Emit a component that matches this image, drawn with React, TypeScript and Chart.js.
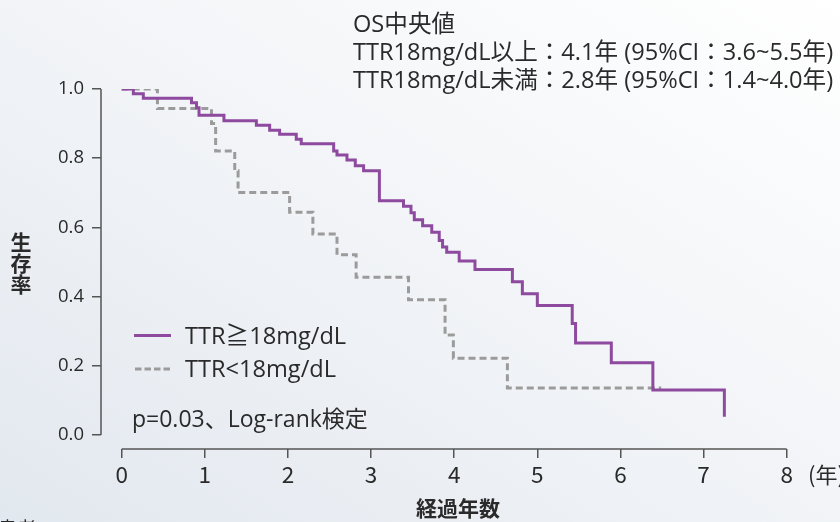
import React, { useEffect, useRef } from "react";
import { Chart, registerables } from "chart.js";

Chart.register(...registerables);

// ---- data ----
const highTimes = [0, 0.14, 0.26, 0.84, 0.9, 0.93, 1.23, 1.62, 1.78, 1.9, 2.1, 2.16, 2.55, 2.59, 2.71, 2.81, 2.91, 3.1, 3.39, 3.48, 3.52, 3.62, 3.73, 3.82, 3.86, 3.91, 4.06, 4.25, 4.7, 4.82, 5.0, 5.42, 5.46, 5.89, 6.39, 7.25];
const highSurv = [1.0, 0.986, 0.973, 0.96, 0.946, 0.924, 0.908, 0.895, 0.881, 0.869, 0.855, 0.842, 0.821, 0.809, 0.795, 0.778, 0.764, 0.677, 0.661, 0.642, 0.622, 0.605, 0.586, 0.562, 0.543, 0.528, 0.503, 0.478, 0.443, 0.408, 0.374, 0.322, 0.266, 0.209, 0.13, 0.053];
const lowTimes = [0, 0.43, 1.08, 1.13, 1.36, 1.4, 2.02, 2.3, 2.59, 2.82, 3.45, 3.89, 3.99, 4.64, 6.49];
const lowSurv = [1.0, 0.944, 0.9, 0.821, 0.764, 0.701, 0.644, 0.581, 0.521, 0.456, 0.391, 0.289, 0.222, 0.136, 0.136];

const xTicks = [0, 1, 2, 3, 4, 5, 6, 7, 8];
const yTicks = [0, 0.2, 0.4, 0.6, 0.8, 1.0];

const seriesLabels = ["TTR≧18mg/dL", "TTR<18mg/dL"];
const noteLines = ["OS中央値", "TTR18mg/dL以上：4.1年 (95%CI：3.6~5.5年)", "TTR18mg/dL未満：2.8年 (95%CI：1.4~4.0年)"];
const pText = "p=0.03、Log-rank検定";
const xTitle = "経過年数";
const yTitle = "生存率";
const xUnit = "(年)";
const bottomNote = "患者";

const PURPLE = "#8d4a9f";
const GRAY = "#9b9b9b";
const FONT = "'Open Sans', 'Noto Sans CJK JP', sans-serif";
const NARROW = "'Noto Sans CJK JP', sans-serif";
const TEXT = "#2a2a2a";

const X_MIN = -0.249;
const Y_MIN = -0.0405;

const axisLines = {
  id: "axisLines",
  afterDraw(chart: any) {
    const ctx = chart.ctx;
    const xs = chart.scales.x;
    const ys = chart.scales.y;
    ctx.save();
    ctx.strokeStyle = "#555";
    ctx.lineWidth = 1.5;
    ctx.beginPath();
    const lx = chart.chartArea.left;
    ctx.moveTo(lx, ys.getPixelForValue(1));
    ctx.lineTo(lx, ys.getPixelForValue(0));
    const by = chart.chartArea.bottom;
    ctx.moveTo(xs.getPixelForValue(0), by);
    ctx.lineTo(xs.getPixelForValue(8), by);
    ctx.stroke();
    ctx.restore();
  },
};

function Txt(props: { x: number; cy: number; size: number; bold?: boolean; children: any; center?: boolean; family?: string }) {
  const { x, cy, size, bold, children, center, family } = props;
  return (
    <div
      style={{
        position: "absolute",
        left: x,
        top: cy - size * 0.8,
        fontSize: size,
        lineHeight: `${size * 1.5}px`,
        fontWeight: bold ? 700 : 400,
        fontFamily: family || FONT,
        whiteSpace: "nowrap",
        color: TEXT,
        transform: center ? "translateX(-50%)" : undefined,
      }}
    >
      {children}
    </div>
  );
}

export default function App() {
  const ref = useRef<HTMLCanvasElement | null>(null);

  useEffect(() => {
    if (!ref.current) return;
    const chart = new Chart(ref.current, {
      type: "line",
      data: {
        datasets: [
          {
            label: seriesLabels[0],
            data: highTimes.map((t, i) => ({ x: t, y: highSurv[i] })),
            borderColor: PURPLE,
            borderWidth: 3,
            stepped: "before",
            pointRadius: 0,
            fill: false,
          },
          {
            label: seriesLabels[1],
            data: lowTimes.map((t, i) => ({ x: t, y: lowSurv[i] })),
            borderColor: GRAY,
            borderWidth: 3,
            borderDash: [7, 4],
            stepped: "before",
            pointRadius: 0,
            fill: false,
          },
        ],
      },
      options: {
        animation: false,
        responsive: false,
        devicePixelRatio: 1,
        layout: { padding: { top: 89, right: 53.3, bottom: 0, left: 0 } },
        plugins: { legend: { display: false }, tooltip: { enabled: false }, title: { display: false } },
        scales: {
          x: {
            type: "linear",
            min: X_MIN,
            max: 8,
            afterBuildTicks: (s: any) => {
              s.ticks = xTicks.map((v) => ({ value: v }));
            },
            afterFit: (s: any) => {
              s.height = 73;
            },
            grid: { display: true, drawOnChartArea: false, drawTicks: true, tickLength: 9, color: "#555", lineWidth: 1.5 },
            border: { display: false },
            ticks: {
              autoSkip: false,
              maxRotation: 0,
              padding: 3,
              color: TEXT,
              font: { family: NARROW, size: 22.5 },
              callback: (v: any) => String(v),
            },
          },
          y: {
            type: "linear",
            min: Y_MIN,
            max: 1,
            afterBuildTicks: (s: any) => {
              s.ticks = yTicks.map((v) => ({ value: v }));
            },
            afterFit: (s: any) => {
              s.width = 101;
            },
            grid: { display: true, drawOnChartArea: false, drawTicks: true, tickLength: 9, color: "#555", lineWidth: 1.5 },
            border: { display: false },
            ticks: {
              autoSkip: false,
              padding: 8,
              color: TEXT,
              font: { family: FONT, size: 18.5 },
              callback: (v: any) => Number(v).toFixed(1),
            },
          },
        },
      },
      plugins: [axisLines],
    } as any);
    return () => chart.destroy();
  }, []);

  return (
    <div
      style={{
        position: "absolute",
        left: 0,
        top: 0,
        width: 840,
        height: 522,
        overflow: "hidden",
        background: "linear-gradient(to top right, #e2e8ef 0%, #f3f5f8 55%, #ffffff 100%)",
        fontFamily: FONT,
      }}
    >
      <canvas ref={ref} width={840} height={522} style={{ position: "absolute", left: 0, top: 0, display: "block" }} />
      <Txt x={353} cy={25} size={23.6}>{noteLines[0]}</Txt>
      <Txt x={353} cy={52.5} size={23.6}>{noteLines[1]}</Txt>
      <Txt x={353} cy={80.5} size={23.6}>{noteLines[2]}</Txt>

      <svg style={{ position: "absolute", left: 130, top: 320 }} width={50} height={60}>
        <line x1={4} y1={15.5} x2={41} y2={15.5} stroke={PURPLE} strokeWidth={3} />
        <line x1={5} y1={49} x2={41} y2={49} stroke={GRAY} strokeWidth={3} strokeDasharray="6.5 3" />
      </svg>
      <Txt x={185} cy={336.5} size={23.6}>{seriesLabels[0]}</Txt>
      <Txt x={185} cy={369.5} size={23.6}>{seriesLabels[1]}</Txt>
      <Txt x={132} cy={419.5} size={23}>{pText}</Txt>

      <div
        style={{
          position: "absolute",
          left: 10,
          top: 232,
          writingMode: "vertical-rl",
          fontSize: 21,
          lineHeight: "21px",
          fontWeight: 700,
          color: TEXT,
          fontFamily: NARROW,
        }}
      >
        {yTitle}
      </div>
      <Txt x={458} cy={509} size={21} bold center family={NARROW}>{xTitle}</Txt>
      <Txt x={808} cy={474.5} size={22} family={NARROW}>{xUnit}</Txt>
      <Txt x={-2} cy={529} size={19} family={NARROW}>{bottomNote}</Txt>
    </div>
  );
}
